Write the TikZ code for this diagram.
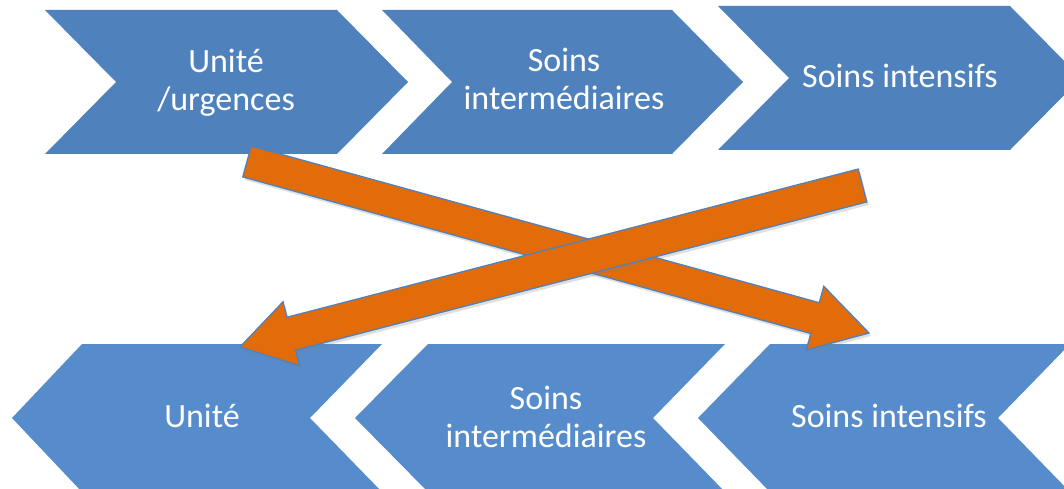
\documentclass[tikz,border=0pt]{standalone}
\usepackage{fontspec}
\setmainfont{Carlito}
\usetikzlibrary{calc,shadows}
\definecolor{topblue}{RGB}{79,129,189}
\definecolor{botblue}{RGB}{86,140,203}
\definecolor{arrorange}{RGB}{227,108,10}
\definecolor{edgeblue}{RGB}{79,129,189}
\begin{document}
\begin{tikzpicture}[x=1pt,y=-1pt,
  lbl/.style={text=white,font=\fontsize{34}{38}\selectfont,align=center,inner sep=0pt},
  topchev/.style={fill=topblue},
  botchev/.style={fill=botblue},
  bigarrow/.style={fill=arrorange,draw=edgeblue,line width=1.3pt,line join=miter,
    drop shadow={opacity=0.25,shadow xshift=2pt,shadow yshift=-3pt}}]
\useasboundingbox (0,0) rectangle (1064,489);
% top row chevrons (pointing right)
\fill[topchev] (45,10) -- (337,10) -- (408,82) -- (337,154) -- (45,154) -- (116,82) -- cycle;
\fill[topchev] (382,10) -- (672,10) -- (743,82) -- (672,154) -- (382,154) -- (452,82) -- cycle;
\fill[topchev] (718,6) -- (1010,6) -- (1081,78) -- (1010,150) -- (718,150) -- (789,78) -- cycle;
% bottom row chevrons (pointing left)
\fill[botchev] (12,418) -- (82,344) -- (382,344) -- (310,418) -- (382,492) -- (82,492) -- cycle;
\fill[botchev] (355,418) -- (428,344) -- (725,344) -- (653,418) -- (725,492) -- (428,492) -- cycle;
\fill[botchev] (698,418) -- (770,344) -- (1070,344) -- (998,418) -- (1070,492) -- (770,492) -- cycle;
% labels
\node[lbl] (t1) at (226,83) {Unité\\/urgences};
\node[lbl] (t2) at (564,79) {Soins\\intermédiaires};
\node[lbl] (t3) at (900,76) {Soins intensifs};
\node[lbl] (b1) at (202,416) {Unité};
\node[lbl] (b2) at (546,417) {Soins\\intermédiaires};
\node[lbl] (b3) at (889,416) {Soins intensifs};
% crossing arrows
\coordinate (a1s) at (247,161.5);
\coordinate (a1e) at (869,333);
\coordinate (a2s) at (862.5,185.5);
\coordinate (a2e) at (240,347);
\coordinate (h1) at ($(a1e)!56pt!(a1s)$);
\coordinate (h2) at ($(a2e)!53pt!(a2s)$);
\draw[bigarrow] ($(a1s)!16pt!90:(a1e)$) -- ($(h1)!16pt!90:(a1e)$) -- ($(h1)!33pt!90:(a1e)$)
  -- (a1e) -- ($(h1)!33pt!-90:(a1e)$) -- ($(h1)!16pt!-90:(a1e)$) -- ($(a1s)!16pt!-90:(a1e)$) -- cycle;
\draw[bigarrow] ($(a2s)!17pt!90:(a2e)$) -- ($(h2)!17pt!90:(a2e)$) -- ($(h2)!33pt!90:(a2e)$)
  -- (a2e) -- ($(h2)!33pt!-90:(a2e)$) -- ($(h2)!17pt!-90:(a2e)$) -- ($(a2s)!17pt!-90:(a2e)$) -- cycle;
\end{tikzpicture}
\end{document}
